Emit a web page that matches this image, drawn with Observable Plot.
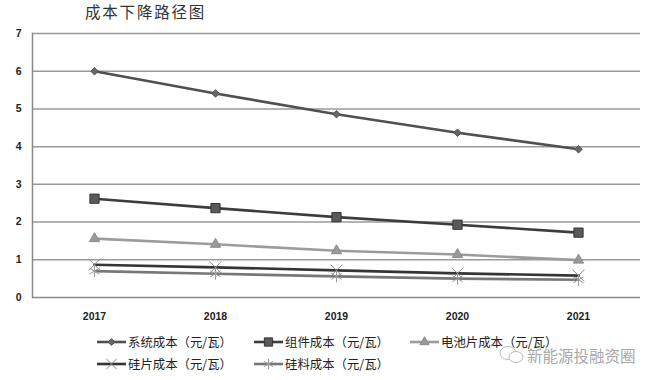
<!DOCTYPE html>
<html><head><meta charset="utf-8">
<script src="https://cdn.jsdelivr.net/npm/d3@7"></script>
<script src="https://cdn.jsdelivr.net/npm/@observablehq/plot@0.6"></script>
<style>
body{margin:0;background:#fff;width:659px;height:380px;overflow:hidden;font-family:"Noto Sans CJK SC","Noto Sans",sans-serif;}
#wrap{position:relative;width:659px;height:380px;}
#title{position:absolute;left:85px;top:3px;font-size:15.5px;color:#333;letter-spacing:1.8px;line-height:16px;height:16px;font-family:"Noto Sans CJK SC",serif;}
#rule{position:absolute;left:33px;top:19.5px;width:614px;height:0;border-top:1.5px solid #888}
#chart{position:absolute;left:0;top:20px}
.leg{position:absolute;font-size:12.4px;color:#222;display:flex;align-items:center;height:16px;line-height:16px;white-space:nowrap}
.leg svg{margin-right:2px}
#wm{position:absolute;left:497px;top:345px;display:flex;align-items:center;font-size:15.5px;line-height:17px;color:#a8a8a8;white-space:nowrap}
</style></head>
<body><div id="wrap">
<div id="title">成本下降路径图</div>
<div id="rule"></div>
<div id="chart"></div>
<div id="wm"><svg width="30" height="20"><ellipse cx="11" cy="8" rx="8" ry="6.5" fill="none" stroke="#bbb" stroke-width="1"/><ellipse cx="19" cy="12" rx="7" ry="5.5" fill="#fff" stroke="#bbb" stroke-width="1"/></svg><span>新能源投融资圈</span></div>
</div>
<script>
const years = ["2017", "2018", "2019", "2020", "2021"];
const seriesNames = ["系统成本（元/瓦）", "组件成本（元/瓦）", "电池片成本（元/瓦）", "硅片成本（元/瓦）", "硅料成本（元/瓦）"];
const systemCost = [6.0, 5.41, 4.86, 4.37, 3.93];
const moduleCost = [2.62, 2.37, 2.13, 1.93, 1.72];
const cellCost = [1.56, 1.41, 1.24, 1.14, 0.99];
const waferCost = [0.87, 0.80, 0.72, 0.64, 0.58];
const polyCost = [0.70, 0.63, 0.56, 0.50, 0.47];
const yTicks = [0, 1, 2, 3, 4, 5, 6, 7];

const seriesValues = [systemCost, moduleCost, cellCost, waferCost, polyCost];
const styles = [
  {line: "#505050", symbol: "diamond2", r: 3.4, fill: "#666", stroke: "#555", sw: 1},
  {line: "#3c3c3c", symbol: "square", r: 5.2, fill: "#5a5a5a", stroke: "#333", sw: 1},
  {line: "#9c9c9c", symbol: "triangle", r: 3.8, fill: "#9a9a9a", stroke: "#8a8a8a", sw: 1},
  {line: "#353535", symbol: "times", r: 5.4, fill: "none", stroke: "#8a8a8a", sw: 1},
  {line: "#777777", symbol: "asterisk", r: 5.6, fill: "none", stroke: "#9a9a9a", sw: 1}
];

const rows = [];
seriesNames.forEach((name, i) => {
  years.forEach((y, j) => rows.push({series: name, idx: i, year: y, value: seriesValues[i][j]}));
});

const marks = [
  Plot.ruleY(yTicks.filter(d => d > 0), {stroke: "#9a9a9a", strokeWidth: 1.5}),
  Plot.ruleY([0], {stroke: "#8a8a8a", strokeWidth: 1.5}),
  Plot.frame({anchor: "left", stroke: "#8a8a8a", strokeWidth: 1.5}),
  Plot.axisY({ticks: yTicks, tickSize: 0, tickPadding: 11, tickFormat: d => d, fontSize: 10.5, fontWeight: "bold", fill: "#222", label: null}),
  Plot.axisX({tickSize: 0, tickPadding: 15, fontSize: 10.5, fontWeight: "bold", fill: "#222", label: null})
];
seriesNames.forEach((name, i) => {
  const data = rows.filter(d => d.idx === i);
  const s = styles[i];
  marks.push(Plot.line(data, {x: "year", y: "value", stroke: s.line, strokeWidth: 2.6}));
});
seriesNames.forEach((name, i) => {
  const data = rows.filter(d => d.idx === i);
  const s = styles[i];
  marks.push(Plot.dot(data, {x: "year", y: "value", symbol: () => s.symbol, r: s.r, fill: s.fill, stroke: s.stroke, strokeWidth: s.sw}));
});

const chart = Plot.plot({
  width: 659,
  height: 305,
  marginTop: 13,
  marginBottom: 28,
  marginLeft: 32,
  marginRight: 19,
  style: {fontFamily: "'Liberation Sans', Arial, sans-serif", background: "#fff"},
  x: {type: "point", domain: years, padding: 0.5, axis: null},
  y: {domain: [0, 7], axis: null},
  symbol: {type: "identity"},
  marks
});
chart.style.display = "block";
document.getElementById("chart").appendChild(chart);

// legend
const legendPos = [[97, 342], [254, 342], [410, 342], [97, 364], [254, 364]];
const wrap = document.getElementById("wrap");
seriesNames.forEach((name, i) => {
  const s = styles[i];
  const div = document.createElement("div");
  div.className = "leg";
  div.style.left = legendPos[i][0] + "px";
  div.style.top = (legendPos[i][1] - 8) + "px";
  const symMap = {diamond2: d3.symbolDiamond2, square: d3.symbolSquare, triangle: d3.symbolTriangle, times: d3.symbolTimes, asterisk: d3.symbolAsterisk};
  const path = d3.symbol(symMap[s.symbol], s.r * s.r * Math.PI * 0.8)();
  div.innerHTML = `<svg width="29" height="16"><line x1="0" y1="8" x2="29" y2="8" stroke="${s.line}" stroke-width="2.6"/><path d="${path}" transform="translate(14.5,8)" fill="${s.fill}" stroke="${s.stroke}" stroke-width="${s.sw}"/></svg><span>${name}</span>`;
  wrap.appendChild(div);
});
</script>
</body></html>
